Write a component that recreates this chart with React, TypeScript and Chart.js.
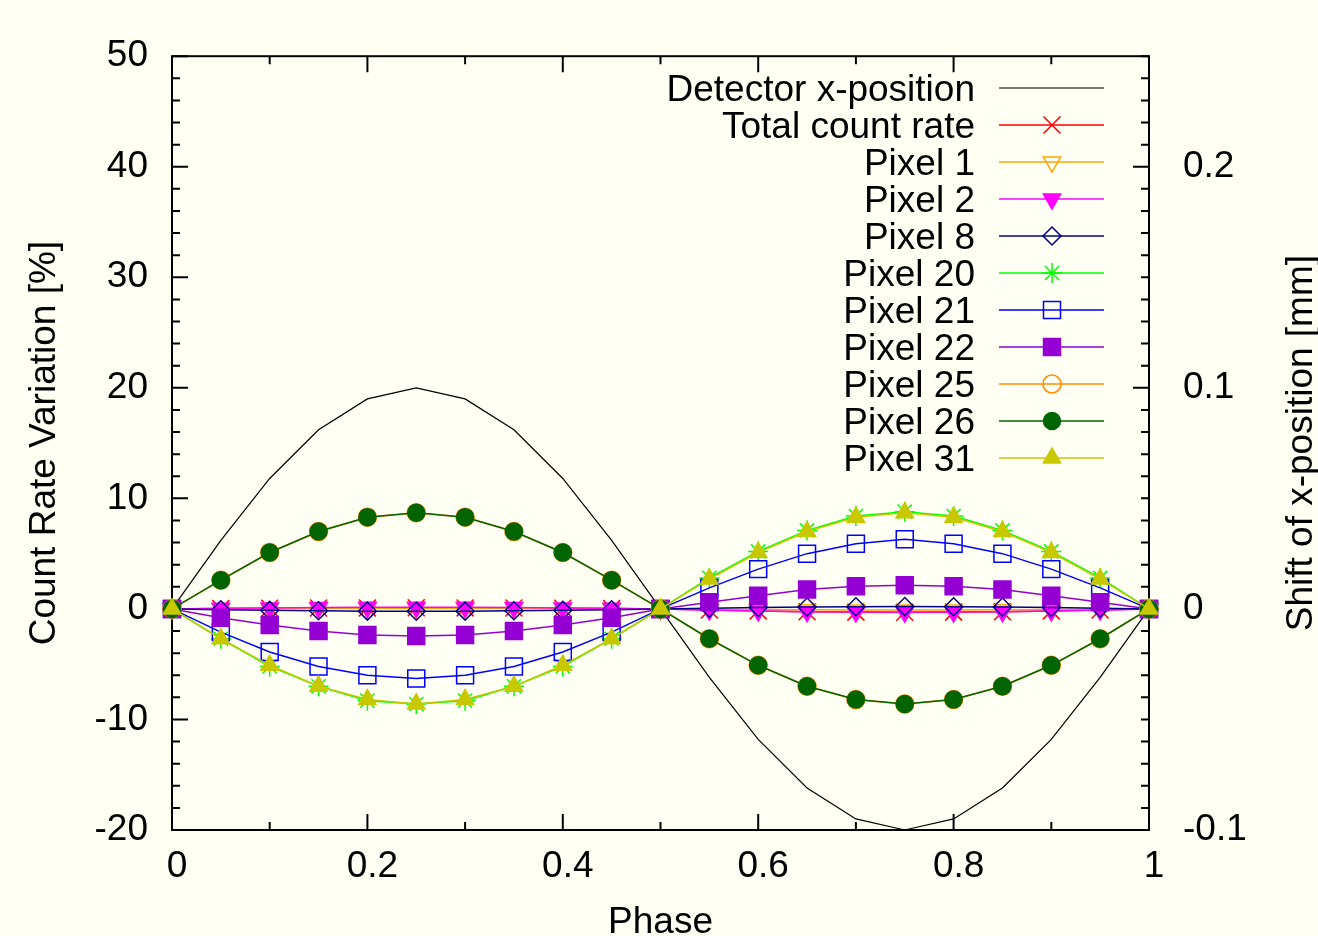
import React, { useEffect, useRef } from 'react';
import { Chart, registerables } from 'chart.js';
import { drawPoint } from 'chart.js/helpers';

Chart.register(...registerables);

const PHASE = [0, 0.05, 0.1, 0.15, 0.2, 0.25, 0.3, 0.35, 0.4, 0.45, 0.5, 0.55, 0.6, 0.65, 0.7, 0.75, 0.8, 0.85, 0.9, 0.95, 1];

const DETECTOR = [0, 0.031, 0.059, 0.081, 0.095, 0.1, 0.095, 0.081, 0.059, 0.031, 0, -0.031, -0.059, -0.081, -0.095, -0.1, -0.095, -0.081, -0.059, -0.031, 0];
const TOTAL = [0, 0.03, 0.06, 0.08, 0.09, 0.1, 0.09, 0.08, 0.06, 0.03, 0, -0.1, -0.18, -0.25, -0.29, -0.3, -0.29, -0.25, -0.18, -0.1, 0];
const PIXEL1 = [0, 0.02, 0.04, 0.05, 0.06, 0.06, 0.06, 0.05, 0.04, 0.02, 0, -0.03, -0.06, -0.08, -0.09, -0.1, -0.09, -0.08, -0.06, -0.03, 0];
const PIXEL2 = [0, 0.05, 0.09, 0.12, 0.14, 0.15, 0.14, 0.12, 0.09, 0.05, 0, -0.1, -0.18, -0.25, -0.29, -0.3, -0.29, -0.25, -0.18, -0.1, 0];
const PIXEL8 = [0, -0.07, -0.13, -0.17, -0.2, -0.21, -0.2, -0.17, -0.13, -0.07, 0, 0.07, 0.13, 0.17, 0.2, 0.21, 0.2, 0.17, 0.13, 0.07, 0];
const PIXEL20 = [0, -2.7, -5.2, -7.0, -8.3, -8.6, -8.3, -7.0, -5.2, -2.7, 0, 2.8, 5.2, 7.1, 8.4, 8.8, 8.4, 7.1, 5.2, 2.8, 0];
const PIXEL21 = [0, -2.1, -3.9, -5.2, -6.0, -6.3, -6.0, -5.2, -3.9, -2.1, 0, 1.9, 3.6, 5.0, 5.9, 6.3, 5.9, 5.0, 3.6, 1.9, 0];
const PIXEL22 = [0, -0.8, -1.45, -2.0, -2.35, -2.45, -2.35, -2.0, -1.45, -0.8, 0, 0.6, 1.2, 1.75, 2.05, 2.15, 2.05, 1.75, 1.2, 0.6, 0];
const PIXEL25 = [0, 2.6, 5.1, 7.0, 8.3, 8.7, 8.3, 7.0, 5.1, 2.6, 0, -2.7, -5.1, -7.0, -8.2, -8.6, -8.2, -7.0, -5.1, -2.7, 0];
const PIXEL26 = [0, 2.6, 5.1, 7.0, 8.3, 8.7, 8.3, 7.0, 5.1, 2.6, 0, -2.7, -5.1, -7.0, -8.2, -8.6, -8.2, -7.0, -5.1, -2.7, 0];
const PIXEL31 = [0, -2.7, -5.1, -7.0, -8.2, -8.6, -8.2, -7.0, -5.1, -2.7, 0, 2.7, 5.1, 7.0, 8.3, 8.7, 8.3, 7.0, 5.1, 2.7, 0];

const X_TICKS = [0, 0.2, 0.4, 0.6, 0.8, 1];
const X_TICK_LABELS = ['0', '0.2', '0.4', '0.6', '0.8', '1'];
const Y_TICKS = [-20, -10, 0, 10, 20, 30, 40, 50];
const Y_TICK_LABELS = ['-20', '-10', '0', '10', '20', '30', '40', '50'];
const Y2_TICKS = [-0.1, 0, 0.1, 0.2];
const Y2_TICK_LABELS = ['-0.1', '0', '0.1', '0.2'];

const X_TITLE = 'Phase';
const Y_TITLE = 'Count Rate Variation [%]';
const Y2_TITLE = 'Shift of x-position [mm]';

type Series = {
  label: string;
  values: number[];
  axis: 'y' | 'y2';
  color: string;
  style: string | false;
  filled: boolean;
  radius: number;
  rotation: number;
  width: number;
};

const SERIES: Series[] = [
  { label: 'Detector x-position', values: DETECTOR, axis: 'y2', color: '#000000', style: false, filled: false, radius: 0, rotation: 0, width: 1.2 },
  { label: 'Total count rate', values: TOTAL, axis: 'y', color: '#ff0000', style: 'crossRot', filled: false, radius: 12, rotation: 0, width: 1.5 },
  { label: 'Pixel 1', values: PIXEL1, axis: 'y', color: '#ffa500', style: 'triangle', filled: false, radius: 10, rotation: 180, width: 1.5 },
  { label: 'Pixel 2', values: PIXEL2, axis: 'y', color: '#ff00ff', style: 'triangle', filled: true, radius: 10, rotation: 180, width: 1.5 },
  { label: 'Pixel 8', values: PIXEL8, axis: 'y', color: '#00008b', style: 'rectRot', filled: false, radius: 9, rotation: 0, width: 1.5 },
  { label: 'Pixel 20', values: PIXEL20, axis: 'y', color: '#00ff00', style: 'star', filled: false, radius: 10, rotation: 0, width: 1.5 },
  { label: 'Pixel 21', values: PIXEL21, axis: 'y', color: '#0000ff', style: 'rect', filled: false, radius: 12, rotation: 0, width: 1.5 },
  { label: 'Pixel 22', values: PIXEL22, axis: 'y', color: '#9400d3', style: 'rect', filled: true, radius: 12, rotation: 0, width: 1.5 },
  { label: 'Pixel 25', values: PIXEL25, axis: 'y', color: '#ff8c00', style: 'circle', filled: false, radius: 9, rotation: 0, width: 1.5 },
  { label: 'Pixel 26', values: PIXEL26, axis: 'y', color: '#006400', style: 'circle', filled: true, radius: 8.5, rotation: 0, width: 1.5 },
  { label: 'Pixel 31', values: PIXEL31, axis: 'y', color: '#c8c800', style: 'triangle', filled: true, radius: 10, rotation: 0, width: 1.5 },
];

const FONT_FAMILY = '"Liberation Sans", Arial, Helvetica, sans-serif';
const FONT_SIZE = 37;
const BG = '#fffff4';

const CHART_LEFT = 172;
const CHART_TOP = 53;
const CHART_RIGHT = 1149;
const CHART_BOTTOM = 830;
const W = 1318;
const H = 936;

const decorPlugin = {
  id: 'decor',
  beforeDraw(chart: any) {
    const ctx = chart.ctx;
    ctx.save();
    ctx.fillStyle = BG;
    ctx.fillRect(0, 0, chart.width, chart.height);
    ctx.restore();
  },
  beforeDatasetsDraw(chart: any) {
    const { ctx, chartArea: a, scales } = chart;
    ctx.save();
    ctx.strokeStyle = '#000';
    ctx.lineWidth = 2;
    ctx.beginPath();
    for (let k = 0; k <= 10; k++) {
      const px = scales.x.getPixelForValue(k / 10);
      const len = k % 2 === 0 ? 16 : 8;
      ctx.moveTo(px, a.bottom);
      ctx.lineTo(px, a.bottom - len);
      ctx.moveTo(px, a.top);
      ctx.lineTo(px, a.top + len);
    }
    for (let v = -20; v <= 50; v += 2) {
      const py = scales.y.getPixelForValue(v);
      const len = v % 10 === 0 ? 16 : 8;
      ctx.moveTo(a.left, py);
      ctx.lineTo(a.left + len, py);
    }
    for (let k = -10; k <= 25; k++) {
      const py = scales.y2.getPixelForValue(k / 100);
      const len = k % 10 === 0 ? 16 : 8;
      ctx.moveTo(a.right, py);
      ctx.lineTo(a.right - len, py);
    }
    ctx.stroke();
    ctx.strokeRect(a.left, a.top, a.right - a.left, a.bottom - a.top);
    ctx.restore();
  },
  afterDraw(chart: any) {
    const { ctx, chartArea: a } = chart;
    ctx.save();
    ctx.fillStyle = '#000';
    ctx.font = `${FONT_SIZE}px ${FONT_FAMILY}`;
    ctx.textAlign = 'center';
    ctx.textBaseline = 'alphabetic';
    ctx.fillText(X_TITLE, (a.left + a.right) / 2, 933);
    const cy = (a.top + a.bottom) / 2;
    ctx.save();
    ctx.translate(55, cy);
    ctx.rotate(-Math.PI / 2);
    ctx.fillText(Y_TITLE, 0, 0);
    ctx.restore();
    ctx.save();
    ctx.translate(1312, cy);
    ctx.rotate(-Math.PI / 2);
    ctx.fillText(Y2_TITLE, 0, 0);
    ctx.restore();

    const rowStart = 88;
    const rowGap = 37;
    SERIES.forEach((s, i) => {
      const y = rowStart + i * rowGap;
      ctx.fillStyle = '#000';
      ctx.textAlign = 'right';
      ctx.textBaseline = 'alphabetic';
      ctx.fillText(s.label, 975, y + 13);
      ctx.strokeStyle = s.color;
      ctx.lineWidth = s.width;
      ctx.beginPath();
      ctx.moveTo(999, y);
      ctx.lineTo(1104, y);
      ctx.stroke();
      if (s.style) {
        ctx.fillStyle = s.filled ? s.color : 'rgba(0,0,0,0)';
        ctx.strokeStyle = s.color;
        ctx.lineWidth = 1.5;
        drawPoint(ctx, { pointStyle: s.style, radius: s.radius, rotation: s.rotation, borderWidth: 1.5 } as any, 1052, y);
      }
    });
    ctx.restore();
  },
};

export default function App() {
  const ref = useRef<HTMLCanvasElement | null>(null);

  useEffect(() => {
    if (!ref.current) return;
    const n = SERIES.length;
    const datasets = SERIES.map((s, i) => ({
      label: s.label,
      data: PHASE.map((p, j) => ({ x: p, y: s.values[j] })),
      yAxisID: s.axis,
      borderColor: s.color,
      backgroundColor: s.filled ? s.color : 'rgba(0,0,0,0)',
      borderWidth: s.width,
      pointStyle: s.style || 'circle',
      pointRadius: s.style ? s.radius : 0,
      pointHoverRadius: s.style ? s.radius : 0,
      pointRotation: s.rotation,
      pointBorderWidth: 1.5,
      pointBorderColor: s.color,
      pointBackgroundColor: s.filled ? s.color : 'rgba(0,0,0,0)',
      tension: 0,
      fill: false,
      clip: false as any,
      order: n - i,
    }));

    const tickFont = { family: FONT_FAMILY, size: FONT_SIZE };

    const chart = new Chart(ref.current, {
      type: 'line',
      data: { datasets },
      plugins: [decorPlugin],
      options: {
        animation: false,
        responsive: false,
        maintainAspectRatio: false,
        events: [],
        layout: { padding: { top: CHART_TOP, left: 0, right: 0, bottom: 0 } },
        plugins: { legend: { display: false }, tooltip: { enabled: false }, title: { display: false } },
        scales: {
          x: {
            type: 'linear',
            min: 0,
            max: 1,
            afterBuildTicks: (s: any) => { s.ticks = X_TICKS.map((v) => ({ value: v })); },
            afterFit: (s: any) => { s.height = H - CHART_BOTTOM; },
            ticks: {
              font: tickFont,
              color: '#000',
              padding: 15,
              labelOffset: 5,
              autoSkip: false,
              maxRotation: 0,
              callback: (_v: any, i: number) => X_TICK_LABELS[i],
            },
            grid: { display: false, drawTicks: false },
            border: { display: false },
          },
          y: {
            type: 'linear',
            position: 'left',
            min: -20,
            max: 50,
            afterBuildTicks: (s: any) => { s.ticks = Y_TICKS.map((v) => ({ value: v })); },
            afterFit: (s: any) => { s.width = CHART_LEFT; },
            ticks: {
              font: tickFont,
              color: '#000',
              padding: 24,
              autoSkip: false,
              callback: (_v: any, i: number) => Y_TICK_LABELS[i],
            },
            grid: { display: false, drawTicks: false },
            border: { display: false },
          },
          y2: {
            type: 'linear',
            position: 'right',
            min: -0.1,
            max: 0.25,
            afterBuildTicks: (s: any) => { s.ticks = Y2_TICKS.map((v) => ({ value: v })); },
            afterFit: (s: any) => { s.width = W - CHART_RIGHT; },
            ticks: {
              font: tickFont,
              color: '#000',
              padding: 34,
              autoSkip: false,
              callback: (_v: any, i: number) => Y2_TICK_LABELS[i],
            },
            grid: { display: false, drawTicks: false },
            border: { display: false },
          },
        },
      } as any,
    });
    return () => chart.destroy();
  }, []);

  return (
    <div style={{ position: 'fixed', left: 0, top: 0, width: W, height: H, background: BG }}>
      <canvas ref={ref} width={W} height={H} style={{ display: 'block', width: W, height: H }} />
    </div>
  );
}
